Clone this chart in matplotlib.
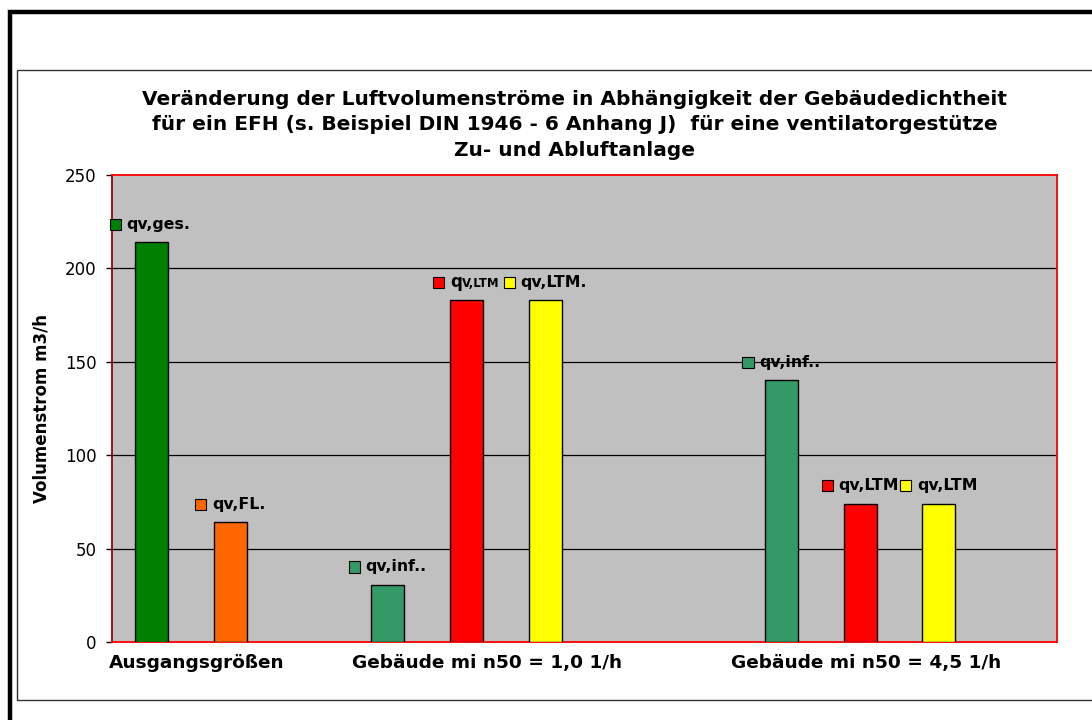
import matplotlib
matplotlib.use("Agg")
import matplotlib.pyplot as plt
from matplotlib.patches import Rectangle
from matplotlib.offsetbox import DrawingArea, TextArea, HPacker, AnnotationBbox

plt.rcParams['font.family'] = ['DejaVu Sans']

# ---------------- data ----------------
title = ("Veränderung der Luftvolumenströme in Abhängigkeit der Gebäudedichtheit\n"
         "für ein EFH (s. Beispiel DIN 1946 - 6 Anhang J)  für eine ventilatorgestütze\n"
         "Zu- und Abluftanlage")
y_label = "Volumenstrom m3/h"
categories = ["Ausgangsgrößen", "Gebäude mi n50 = 1,0 1/h", "Gebäude mi n50 = 4,5 1/h"]
bar_labels = ["qv,ges.", "qv,FL.", "qv,inf..", "q|V,LTM", "qv,LTM.", "qv,inf..", "qv,LTM", "qv,LTM"]
bar_values = [214, 64, 30.5, 183, 183, 140, 74, 74]
bar_colors = ["#008000", "#FF6600", "#339966", "#FF0000", "#FFFF00", "#339966", "#FF0000", "#FFFF00"]
y_ticks = [0, 50, 100, 150, 200, 250]

# layout (slot positions on a 12-slot category axis)
bar_slots = [0, 1, 3, 4, 5, 8, 9, 10]
category_label_x = [1.07, 4.76, 9.57]

W, H = 1092, 720
fig = plt.figure(figsize=(W / 100, H / 100), dpi=100)

# outer frames
fig.patches.append(Rectangle((10 / W, -0.1), 1.2, (H - 12) / H + 0.1, transform=fig.transFigure,
                             fill=False, ec='black', lw=3.2, zorder=0))
fig.patches.append(Rectangle((16.5 / W, (H - 700) / H), 1.2, (700 - 69.5) / H, transform=fig.transFigure,
                             fill=False, ec='#333333', lw=1.0, zorder=0))

left, right, top, bottom = 112, 1057, 175, 642
ax = fig.add_axes([left / W, (H - bottom) / H, (right - left) / W, (bottom - top) / H])
ax.set_facecolor('#C0C0C0')
ax.set_xlim(0, 12)
ax.set_ylim(0, 250)

xs = [s + 0.5 for s in bar_slots]
ax.bar(xs, bar_values, width=0.42, color=bar_colors, edgecolor='black', linewidth=1.0, zorder=3)

for y in y_ticks[1:-1]:
    ax.axhline(y, color='black', lw=0.9, zorder=1)

ax.set_yticks(y_ticks)
ax.set_xticks([])
ax.tick_params(axis='y', direction='out', length=4.3, width=1, labelsize=12, pad=7, color='black')
for sp in ax.spines.values():
    sp.set_color('#FF0000')
    sp.set_linewidth(1.3)
ax.spines['left'].set_color('#A00000')

ax.set_ylabel(y_label, fontsize=12, fontweight='bold')
ax.yaxis.set_label_coords(-62 / (right - left), 0.5)

fig.text(575 / W, 1 - 125 / H, title, ha='center', va='center', fontsize=14.5,
         fontweight='bold', linespacing=1.44)

# category labels
for cat, cx in zip(categories, category_label_x):
    ax.text(cx, -11.5, cat, ha='center', va='center', fontsize=13.3, fontweight='bold',
            transform=ax.transData, clip_on=False)

# data labels with legend keys
tp = dict(fontsize=11.3, fontweight='bold', color='black')
for i, (x, v, lab, col) in enumerate(zip(xs, bar_values, bar_labels, bar_colors)):
    da = DrawingArea(8, 8, 0, 0)
    da.add_artist(Rectangle((0, 0), 8, 8, fc=col, ec='black', lw=0.8))
    if '|' in lab:
        a, b = lab.split('|')
        txt = HPacker(children=[TextArea(a, textprops=dict(tp, fontsize=12)),
                                TextArea(b, textprops=dict(tp, fontsize=8.5))],
                      align='baseline', pad=0, sep=0)
    else:
        txt = TextArea(lab, textprops=tp)
    box = HPacker(children=[da, txt], align='center', pad=0, sep=4)
    if i == 0:
        ab = AnnotationBbox(box, (0, v), xybox=(-1.5, 13), xycoords='data',
                            boxcoords='offset points', box_alignment=(0, 0.5), frameon=False,
                            annotation_clip=False, zorder=5)
    else:
        ab = AnnotationBbox(box, (x, v), xybox=(0, 13), xycoords='data',
                            boxcoords='offset points', box_alignment=(0.5, 0.5), frameon=False,
                            annotation_clip=False, zorder=5)
    ax.add_artist(ab)

fig.savefig('out.png', dpi=100)
